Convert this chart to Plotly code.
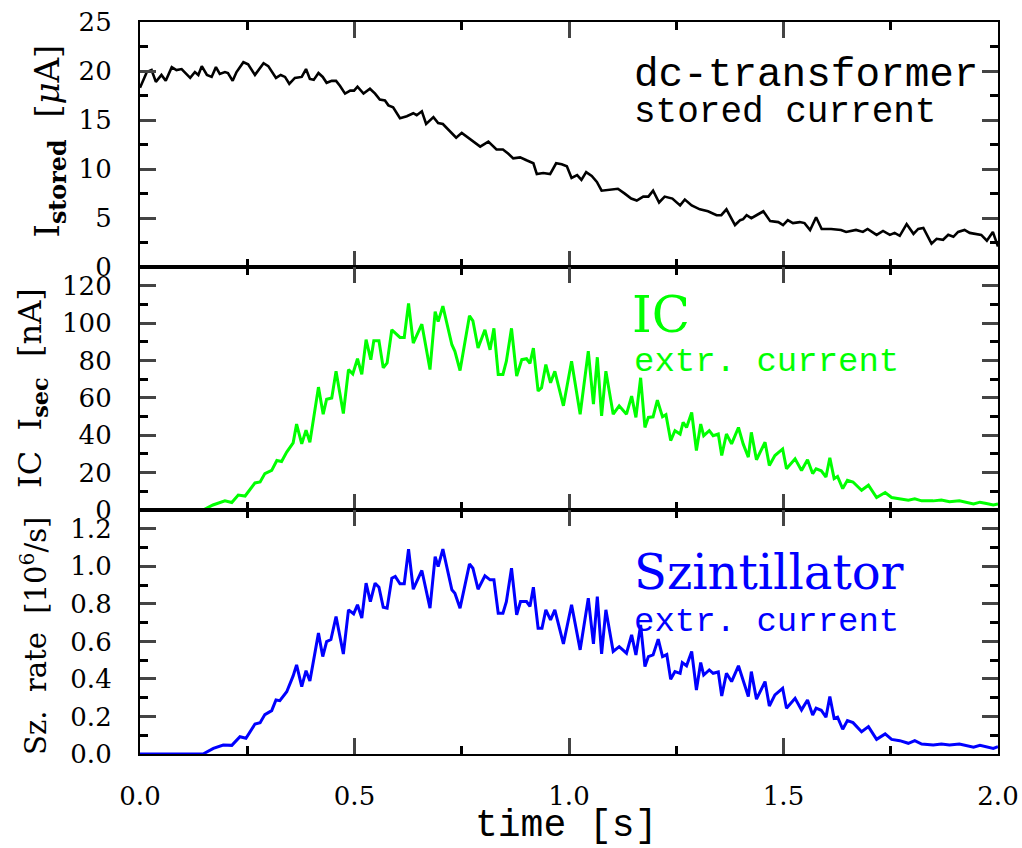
import plotly.graph_objects as go

# stored current (dc-transformer), microampere
t_dc = [0.0, 0.016, 0.027, 0.037, 0.05, 0.06, 0.074, 0.085, 0.097, 0.117, 0.128, 0.136, 0.144, 0.156,
        0.167, 0.177, 0.186, 0.198, 0.205, 0.216, 0.225, 0.241, 0.252, 0.268, 0.288, 0.299, 0.317,
        0.328, 0.338, 0.348, 0.361, 0.377, 0.387, 0.396, 0.405, 0.416, 0.426, 0.435, 0.447, 0.457,
        0.466, 0.478, 0.490, 0.499, 0.507, 0.521, 0.536, 0.548, 0.559, 0.571, 0.579, 0.590, 0.606,
        0.622, 0.637, 0.645, 0.657, 0.667, 0.684, 0.695, 0.706, 0.737, 0.750, 0.766, 0.793, 0.812,
        0.831, 0.846, 0.858, 0.870, 0.886, 0.901, 0.917, 0.925, 0.940, 0.956, 0.970, 0.983, 0.995,
        1.006, 1.019, 1.029, 1.040, 1.053, 1.065, 1.076, 1.095, 1.114, 1.130, 1.145, 1.158, 1.173,
        1.185, 1.196, 1.210, 1.223, 1.241, 1.259, 1.270, 1.286, 1.305, 1.324, 1.344, 1.355, 1.367,
        1.375, 1.387, 1.399, 1.406, 1.414, 1.425, 1.441, 1.453, 1.469, 1.488, 1.499, 1.510, 1.522,
        1.538, 1.549, 1.562, 1.576, 1.589, 1.611, 1.634, 1.646, 1.669, 1.685, 1.696, 1.717, 1.732,
        1.748, 1.759, 1.771, 1.787, 1.803, 1.814, 1.826, 1.835, 1.845, 1.857, 1.872, 1.884, 1.896,
        1.907, 1.922, 1.934, 1.949, 1.961, 1.974, 1.988, 2.0]
i_dc = [18.3, 19.9, 20.1, 18.9, 19.6, 19.0, 20.4, 20.1, 20.2, 19.3, 19.9, 19.6, 20.5, 19.6,
        19.4, 20.4, 19.7, 19.9, 19.8, 19.0, 19.9, 20.9, 20.7, 19.6, 20.8, 20.5, 19.3,
        19.6, 19.4, 18.7, 19.3, 19.4, 20.2, 19.2, 19.1, 19.8, 19.4, 18.8, 19.0, 19.0,
        18.5, 17.7, 18.0, 18.0, 18.4, 17.7, 18.2, 17.7, 17.1, 17.0, 16.5, 16.3, 15.2,
        15.4, 15.7, 15.5, 15.9, 14.6, 15.3, 14.7, 14.6, 13.2, 13.7, 13.2, 12.3, 12.8,
        12.0, 12.0, 11.6, 11.1, 11.2, 10.9, 10.6, 9.5, 9.6, 9.5, 10.6, 10.5, 10.3,
        9.1, 9.4, 8.9, 9.7, 9.3, 8.7, 7.8, 7.9, 8.0, 7.5, 7.0, 6.8, 7.2,
        7.2, 7.8, 6.6, 7.2, 7.0, 6.3, 6.9, 6.3, 5.9, 5.7, 5.3, 5.3, 5.9,
        5.2, 4.3, 4.8, 4.9, 5.3, 5.0, 5.4, 5.7, 4.7, 4.6, 4.3, 4.8, 4.5,
        4.6, 4.5, 3.8, 5.1, 3.9, 3.9, 3.8, 3.6, 3.8, 3.6, 3.9, 3.3, 3.7,
        3.3, 3.5, 3.2, 4.4, 3.4, 3.9, 4.0, 3.3, 2.4, 2.9, 2.8, 3.3, 3.1,
        3.6, 3.8, 3.5, 3.4, 3.3, 2.7, 3.6, 2.1]

# ionisation chamber, extracted current, nanoampere
t_ic = [0.0, 0.147, 0.17, 0.198, 0.214, 0.229, 0.245, 0.268, 0.280, 0.291, 0.307, 0.319, 0.330, 0.342,
        0.357, 0.365, 0.377, 0.387, 0.396, 0.416, 0.427, 0.435, 0.447, 0.457, 0.474, 0.486, 0.496,
        0.507, 0.517, 0.527, 0.538, 0.545, 0.557, 0.567, 0.576, 0.587, 0.606, 0.616, 0.626, 0.637,
        0.657, 0.676, 0.688, 0.695, 0.706, 0.727, 0.734, 0.746, 0.768, 0.776, 0.788, 0.804, 0.816,
        0.825, 0.835, 0.846, 0.854, 0.866, 0.878, 0.890, 0.901, 0.909, 0.917, 0.928, 0.936, 0.946,
        0.957, 0.967, 0.987, 1.006, 1.026, 1.045, 1.057, 1.066, 1.076, 1.086, 1.103, 1.117, 1.134,
        1.146, 1.156, 1.167, 1.177, 1.185, 1.196, 1.206, 1.218, 1.226, 1.237, 1.247, 1.259, 1.266,
        1.274, 1.286, 1.297, 1.307, 1.314, 1.327, 1.336, 1.348, 1.356, 1.367, 1.379, 1.395, 1.406,
        1.418, 1.425, 1.437, 1.457, 1.467, 1.480, 1.498, 1.507, 1.527, 1.542, 1.556, 1.568, 1.576,
        1.588, 1.599, 1.608, 1.618, 1.626, 1.638, 1.649, 1.662, 1.682, 1.698, 1.717, 1.737, 1.752,
        1.771, 1.791, 1.806, 1.822, 1.849, 1.868, 1.887, 1.910, 1.943, 1.958, 1.973, 1.989, 2.0]
i_ic = [0.0, 0.0, 2.7, 4.9, 4.0, 8.0, 7.5, 14.5, 15.0, 19.5, 21.2, 26.5, 26.0, 31.0,
        36.0, 46.0, 35.4, 42.8, 36.3, 65.8, 51.3, 59.3, 60.0, 74.3, 51.7, 75.2, 72.9,
        81.0, 72.6, 91.2, 80.5, 90.6, 90.6, 76.1, 78.8, 96.5, 92.4, 92.4, 110.6, 89.4,
        99.5, 75.2, 106.2, 100.9, 109.2, 88.5, 85.0, 74.7, 104.0, 101.3, 86.7, 96.5, 85.8,
        97.3, 72.6, 72.6, 79.7, 97.3, 71.7, 80.5, 81.0, 78.5, 86.7, 63.7, 65.5, 77.9,
        68.1, 74.3, 55.8, 79.7, 51.3, 85.0, 56.7, 81.8, 50.4, 74.3, 51.3, 55.8, 51.3,
        61.0, 49.6, 70.8, 44.2, 49.6, 49.9, 58.8, 49.9, 51.0, 37.2, 42.5, 40.7, 46.9,
        44.2, 52.2, 31.9, 46.0, 39.8, 42.5, 39.8, 40.7, 29.2, 40.7, 35.4, 44.2, 35.4,
        28.3, 41.6, 26.9, 36.3, 23.9, 29.2, 32.7, 22.1, 27.4, 21.2, 26.9, 19.5, 22.1,
        21.0, 17.7, 28.0, 16.8, 18.0, 11.5, 15.9, 15.0, 10.6, 13.3, 6.7, 9.4, 6.7,
        6.2, 5.3, 6.0, 4.9, 4.9, 5.3, 4.4, 4.9, 3.2, 4.2, 3.5, 2.7, 3.2]

# scintillator rate, 10^6 per second
t_sz = [0.0, 0.147, 0.171, 0.194, 0.214, 0.233, 0.247, 0.268, 0.280, 0.291, 0.307, 0.317, 0.326, 0.342,
        0.357, 0.365, 0.377, 0.387, 0.396, 0.416, 0.426, 0.435, 0.445, 0.457, 0.474, 0.486, 0.498,
        0.507, 0.517, 0.527, 0.537, 0.548, 0.557, 0.567, 0.576, 0.587, 0.595, 0.606, 0.616, 0.626,
        0.637, 0.657, 0.676, 0.688, 0.695, 0.706, 0.727, 0.734, 0.746, 0.768, 0.776, 0.788, 0.804,
        0.816, 0.825, 0.835, 0.846, 0.854, 0.866, 0.878, 0.887, 0.901, 0.909, 0.917, 0.928, 0.937,
        0.946, 0.957, 0.967, 0.987, 1.006, 1.026, 1.045, 1.057, 1.066, 1.076, 1.086, 1.103, 1.117,
        1.134, 1.146, 1.156, 1.167, 1.177, 1.185, 1.196, 1.208, 1.218, 1.228, 1.237, 1.247, 1.259,
        1.264, 1.274, 1.286, 1.297, 1.307, 1.314, 1.327, 1.336, 1.348, 1.356, 1.367, 1.379, 1.395,
        1.406, 1.418, 1.425, 1.437, 1.457, 1.467, 1.480, 1.498, 1.507, 1.527, 1.542, 1.556, 1.568,
        1.576, 1.588, 1.599, 1.608, 1.618, 1.626, 1.638, 1.649, 1.662, 1.682, 1.698, 1.717, 1.737,
        1.752, 1.771, 1.791, 1.806, 1.822, 1.849, 1.868, 1.887, 1.910, 1.943, 1.958, 1.973, 1.989,
        2.0]
r_sz = [0.0, 0.0, 0.03, 0.048, 0.046, 0.092, 0.084, 0.16, 0.167, 0.21, 0.231, 0.288, 0.284, 0.332,
        0.416, 0.475, 0.359, 0.444, 0.389, 0.644, 0.519, 0.599, 0.61, 0.732, 0.533, 0.768, 0.747,
        0.795, 0.724, 0.91, 0.812, 0.91, 0.889, 0.782, 0.777, 0.937, 0.946, 0.907, 0.907, 1.092,
        0.878, 0.978, 0.777, 1.052, 0.999, 1.092, 0.875, 0.857, 0.777, 1.012, 0.99, 0.878, 0.949,
        0.928, 0.928, 0.75, 0.75, 0.812, 0.99, 0.741, 0.812, 0.812, 0.786, 0.889, 0.67, 0.67,
        0.768, 0.715, 0.768, 0.587, 0.795, 0.555, 0.83, 0.587, 0.839, 0.533, 0.768, 0.546, 0.572,
        0.537, 0.635, 0.528, 0.688, 0.466, 0.519, 0.528, 0.612, 0.519, 0.53, 0.398, 0.439, 0.43,
        0.487, 0.47, 0.546, 0.341, 0.487, 0.421, 0.448, 0.43, 0.437, 0.309, 0.43, 0.386, 0.47,
        0.386, 0.306, 0.439, 0.292, 0.386, 0.256, 0.315, 0.35, 0.244, 0.297, 0.235, 0.288, 0.208,
        0.244, 0.233, 0.196, 0.306, 0.19, 0.196, 0.132, 0.178, 0.167, 0.119, 0.146, 0.078, 0.107,
        0.078, 0.071, 0.057, 0.071, 0.053, 0.048, 0.053, 0.048, 0.053, 0.036, 0.046, 0.039, 0.03,
        0.039]

SERIF = "DejaVu Serif"
MONO = "Liberation Mono"

fig = go.Figure()
fig.add_trace(go.Scatter(x=t_dc, y=i_dc, mode="lines", line=dict(color="black", width=2.6),
                         xaxis="x", yaxis="y"))
fig.add_trace(go.Scatter(x=t_ic, y=i_ic, mode="lines", line=dict(color="#00ff00", width=3),
                         xaxis="x2", yaxis="y2"))
fig.add_trace(go.Scatter(x=t_sz, y=r_sz, mode="lines", line=dict(color="#0000ff", width=3),
                         xaxis="x3", yaxis="y3"))

tickfont = dict(family=SERIF, size=26, color="black")


def xax(anchor, labels):
    return dict(anchor=anchor, range=[0, 2.0], dtick=0.5, tick0=0, ticks="inside", ticklen=16,
                tickwidth=2.5, showline=True, linewidth=2.2, linecolor="black", mirror="ticks",
                showgrid=False, zeroline=False, showticklabels=labels, tickformat=".1f",
                tickfont=tickfont, ticklabelstandoff=18, automargin=False,
                minor=dict(dtick=0.25, ticks="inside", ticklen=8, tickwidth=2.5, tickcolor="black"))


def yax(anchor, dom, rng, dtick, minor, fmt):
    return dict(anchor=anchor, domain=dom, range=rng, dtick=dtick, tick0=0, ticks="inside",
                ticklen=16, tickwidth=2.5, showline=True, linewidth=2.2, linecolor="black",
                mirror="ticks", showgrid=False, zeroline=False, tickformat=fmt,
                tickfont=tickfont, ticklabelstandoff=21, automargin=False,
                minor=dict(dtick=minor, ticks="inside", ticklen=8, tickwidth=2.5, tickcolor="black"))


fig.update_layout(
    width=1022, height=848,
    margin=dict(l=140, r=24, t=22, b=94),
    paper_bgcolor="white", plot_bgcolor="white",
    showlegend=False,
    xaxis=xax("y", False),
    xaxis2=xax("y2", False),
    xaxis3=xax("y3", True),
    yaxis=yax("x", [0.665, 1.0], [0, 25], 5, 2.5, "d"),
    yaxis2=yax("x2", [0.3333, 0.665], [0, 130], 20, 10, "d"),
    yaxis3=yax("x3", [0.0, 0.3333], [0, 1.3], 0.2, 0.1, ".1f"),
)

# axis titles
ylab = dict(family=SERIF, size=32, color="black")
fig.add_annotation(text="I<sub><b>stored</b></sub>  [<i>μ</i>A]", textangle=-90, xref="paper",
                   yref="paper", x=-0.105, y=0.838, xanchor="center", yanchor="middle",
                   showarrow=False, font=dict(family=SERIF, size=34, color="black"))
fig.add_annotation(text="IC  I<sub><b>sec</b></sub>  [nA]", textangle=-90, xref="paper",
                   yref="paper", x=-0.126, y=0.5, xanchor="center", yanchor="middle",
                   showarrow=False, font=ylab)
fig.add_annotation(text="Sz.  rate  [10<sup>6</sup>/s]", textangle=-90, xref="paper",
                   yref="paper", x=-0.123, y=0.162, xanchor="center", yanchor="middle",
                   showarrow=False, font=dict(family=SERIF, size=29, color="black"))
fig.add_annotation(text="time [s]", xref="paper", yref="paper", x=0.497, y=-0.098,
                   xanchor="center", yanchor="middle", showarrow=False,
                   font=dict(family=MONO, size=38, color="black"))

# panel labels
fig.add_annotation(text="dc-transformer", xref="paper", yref="paper", x=0.573, y=0.927,
                   xanchor="left", yanchor="middle", showarrow=False,
                   font=dict(family=MONO, size=41, color="black"))
fig.add_annotation(text="stored current", xref="paper", yref="paper", x=0.573, y=0.877,
                   xanchor="left", yanchor="middle", showarrow=False,
                   font=dict(family=MONO, size=36, color="black"))
fig.add_annotation(text="IC", xref="paper", yref="paper", x=0.571, y=0.6,
                   xanchor="left", yanchor="middle", showarrow=False,
                   font=dict(family=SERIF, size=50, color="#00ff00"))
fig.add_annotation(text="extr. current", xref="paper", yref="paper", x=0.573, y=0.536,
                   xanchor="left", yanchor="middle", showarrow=False,
                   font=dict(family=MONO, size=34, color="#00ff00"))
fig.add_annotation(text="Szintillator", xref="paper", yref="paper", x=0.573, y=0.248,
                   xanchor="left", yanchor="middle", showarrow=False,
                   font=dict(family=SERIF, size=48, color="#0000ff"))
fig.add_annotation(text="extr. current", xref="paper", yref="paper", x=0.573, y=0.18,
                   xanchor="left", yanchor="middle", showarrow=False,
                   font=dict(family=MONO, size=34, color="#0000ff"))

fig.write_html("out.html", config={"displayModeBar": False},
               post_script="document.body.style.margin='0';document.body.style.overflow='hidden';")
